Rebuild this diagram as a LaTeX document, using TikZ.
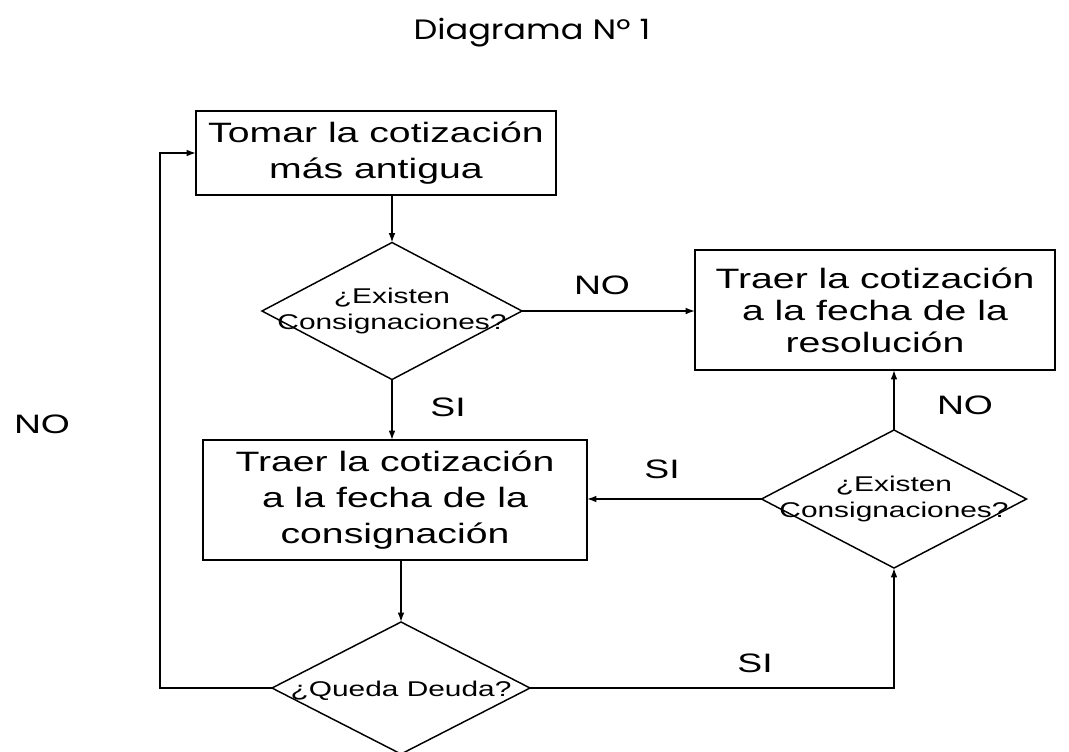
\documentclass[tikz,border=0pt]{standalone}
\usepackage{fontspec}
\setmainfont[FakeStretch=1.4]{Liberation Sans}
\newfontfamily\titlefont[FakeStretch=1.2]{Poppins}
\usetikzlibrary{shapes.geometric,arrows.meta}
\begin{document}
\begin{tikzpicture}[x=0.75pt,y=-0.75pt,
  every node/.style={inner sep=0pt,outer sep=0pt},
  boxnode/.style={draw,line width=1.1pt,rectangle,align=center,font=\fontsize{21}{27}\selectfont},
  dianode/.style={draw,line width=1.1pt,diamond},
  diatext/.style={align=center,font=\fontsize{16}{19}\selectfont},
  lbl/.style={font=\fontsize{20}{24}\selectfont},
  arr/.style={line width=1.1pt,-{Latex[length=7pt,width=5pt]}}]
\useasboundingbox (0,0) rectangle (1069,751);
\node[font=\titlefont\fontsize{21}{24}\selectfont] (title) at (532,33) {Diagrama Nº 1};

\node[boxnode,minimum width=270pt,minimum height=63pt] (b1) at (376,153) {Tomar la cotización\\más antigua};
\node[boxnode,minimum width=270pt,minimum height=90pt,font=\fontsize{21}{24}\selectfont] (b2) at (875,310) {Traer la cotización\\a la fecha de la\\resolución};
\node[boxnode,minimum width=288pt,minimum height=90pt] (b3) at (395,500) {Traer la cotización\\a la fecha de la\\consignación};

\node[dianode,minimum width=195pt,minimum height=102.75pt,
  label={[diatext]center:¿Existen\\Consignaciones?}] (d1) at (392,311) {};
\node[dianode,minimum width=198.75pt,minimum height=103.5pt,
  label={[diatext]center:¿Existen\\Consignaciones?}] (d2) at (894,499) {};
\node[dianode,minimum width=193.5pt,minimum height=99pt,
  label={[diatext,yshift=-2pt]center:¿Queda Deuda?}] (d3) at (401,688) {};

\coordinate (loop) at (160,688);

\draw[arr] (b1.south -| d1.north) -- (d1.north);
\draw[arr] (d1.east) -- (d1.east -| b2.west);
\draw[arr] (d1.south) -- (d1.south |- b3.north);
\draw[arr] (b3.south -| d3.north) -- (d3.north);
\draw[arr] (d2.west) -- (d2.west -| b3.east);
\draw[arr] (d2.north) -- (d2.north |- b2.south);
\draw[arr] (d3.east) -| (d2.south);
\draw[arr] (d3.west) -- (loop) |- (b1.west);

\node[lbl] (no1) at (602,285) {NO};
\node[lbl] (si1) at (448,407) {SI};
\node[lbl] (no2) at (965,405) {NO};
\node[lbl] (si2) at (662,469) {SI};
\node[lbl] (si3) at (755,663) {SI};
\node[lbl] (no3) at (42,424) {NO};
\end{tikzpicture}
\end{document}
